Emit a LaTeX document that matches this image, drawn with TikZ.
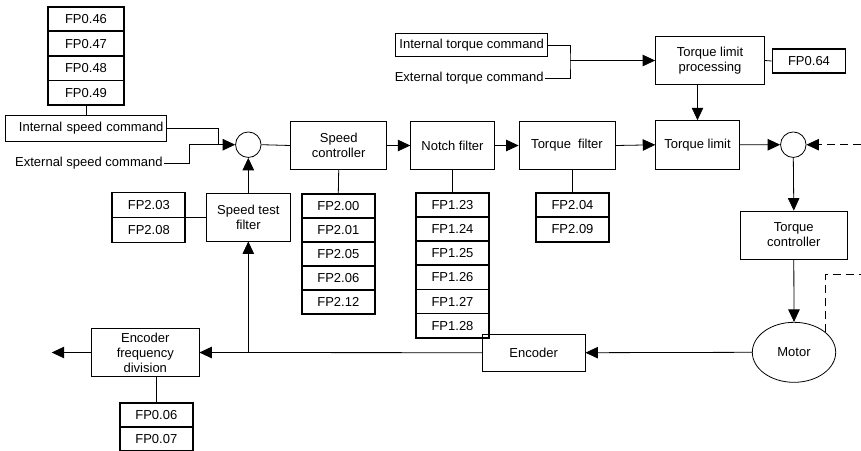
\documentclass[tikz,border=0pt]{standalone}
\usepackage{fontspec}
\setmainfont{Liberation Sans}
\usetikzlibrary{arrows.meta,shapes.geometric,calc}

\tikzset{
  blk/.style={rectangle,draw,line width=0.8pt,align=center,inner sep=1pt},
  fpbox/.style={rectangle,draw,line width=1.8pt,minimum width=73pt,minimum height=24pt,inner sep=0pt},
  sumc/.style={circle,draw,line width=0.8pt,minimum size=25.5pt,inner sep=0pt},
  arr/.style={-{Triangle[length=12.5pt,width=11.5pt]}},
  fb/.style={dash pattern=on 8pt off 5pt},
}

\begin{document}
\begin{tikzpicture}[x=1pt,y=-1pt,line width=0.8pt,font=\fontsize{13}{15}\selectfont]
\useasboundingbox (0,0) rectangle (861,450);
% speed command part
\foreach \i/\p in {0/46,1/47,2/48,3/49} {
    \node (fpa\i) at (86,{19+24.6*\i}) [fpbox,minimum width=75.5pt,minimum height=24.6pt] {FP0.\p};
}
\node (isc) at (86,128.3) [blk,text width=155pt,align=right,inner sep=3pt,minimum height=26.5pt] {Internal speed command};
\node (esc) at (164,163) [anchor=east,inner sep=1pt] {External speed command};
\node (sum1) at (248.3,144.7) [sumc] {};
\coordinate (j1) at (218.3,144.7);
\coordinate (j2) at (189.3,144.7);
\draw (fpa3.south) -- (isc.north);
\draw (isc.east) -| (j1);
\draw[arr] (esc.east) -| (j2) -- (sum1.west);

% forward path
\node (spc) at (338.7,145.5) [blk,minimum width=96pt,minimum height=47.6pt] {Speed\\controller};
\node (notch) at (452.5,145.5) [blk,minimum width=83.6pt,minimum height=47.6pt] {Notch filter};
\node (tqf) at (567,145.5) [blk,minimum width=96pt,minimum height=47.6pt] {Torque\ \ filter};
\node (tlim) at (697.5,144.8) [blk,minimum width=83.7pt,minimum height=48.3pt] {Torque limit};
\node (sum2) at (793.3,144.7) [sumc] {};
\draw (sum1.east) -- (spc.west);
\draw[arr] (spc.east) -- (notch.west);
\draw[arr] (notch.east) -- (tqf.west);
\draw[arr] (tqf.east) -- (tlim.west);
\draw[arr] (tlim.east) -- (sum2.west);
\coordinate (fbin) at (861,144.7);
\draw[arr,fb] (fbin) -- (sum2.east);

% torque command part
\node (itc) at (471.7,45) [blk,minimum width=152pt,minimum height=23.4pt] {Internal torque command};
\node (etc) at (545,78) [anchor=east,inner sep=1pt] {External torque command};
\node (tlp) at (710,60.5) [blk,minimum width=109pt,minimum height=48pt] {Torque limit\\processing};
\node (fp064) at (809,61) [fpbox,minimum height=23.7pt] {FP0.64};
\coordinate (j3) at (570,60.5);
\draw (itc.east) -| (j3) |- (etc.east);
\draw[arr] (j3) -- (tlp.west);
\draw (tlp.east) -- (fp064.west);
\draw[arr] (tlim.north |- tlp.south) -- (tlim.north);

% parameter stacks
\foreach \i/\p in {0/00,1/01,2/05,3/06,4/12} {
    \node (fps\i) at (338.3,{206.3+23.9*\i}) [fpbox,minimum height=23.9pt] {FP2.\p};
}
\draw (spc.south) -- (fps0.north);
\foreach \i/\p in {0/23,1/24,2/25,3/26,4/27,5/28} {
    \node (fpn\i) at (452.5,{204.8+24.17*\i}) [fpbox,minimum height=24.17pt] {FP1.\p};
}
\draw (notch.south) -- (fpn0.north);
\foreach \i/\p in {0/04,1/09} {
    \node (fpt\i) at (572.5,{205+24.5*\i}) [fpbox,minimum height=24.5pt] {FP2.\p};
}
\draw (fpt0.north) -- (fpt0.north |- tqf.south);

% motor and feedback
\node (tqc) at (793.8,235) [blk,minimum width=107pt,minimum height=48pt] {Torque\\controller};
\node (motor) at (794,352.3) [ellipse,draw,minimum width=83.4pt,minimum height=60pt,inner sep=0pt] {Motor};
\node (enc) at (533.7,352.7) [blk,minimum width=102.7pt,minimum height=36.7pt] {Encoder};
\node (efd) at (145.3,352.5) [blk,minimum width=107.3pt,minimum height=48.4pt] {Encoder\\frequency\\division};
\node (stf) at (248.3,217.2) [blk,minimum width=84.7pt,minimum height=47.7pt] {Speed test\\filter};
\draw[arr] (sum2.south) -- (tqc.north);
\draw[arr] (tqc.south) -- (motor.north);
\coordinate (fbout) at (861,274.3);
\draw[fb] (motor.32) |- (fbout);
\draw[arr] (motor.west) -- (enc.east);
\draw[arr] (enc.west) -- (efd.east);
\coordinate (j4) at (248.3,352.5);
\draw[arr] (j4) -- (stf.south);
\draw[arr] (stf.north) -- (sum1.south);
\coordinate (eout) at (51.7,352.5);
\draw[arr] (efd.west) -- (eout);

\foreach \i/\p in {0/03,1/08} {
    \node (fpb\i) at (148.8,{205+25*\i}) [fpbox,minimum height=25pt] {FP2.\p};
}
\draw (stf.west) -- (stf.west -| fpb0.east);
\foreach \i/\p in {0/06,1/07} {
    \node (fpc\i) at (156.3,{414.7+24*\i}) [fpbox,minimum width=72.7pt] {FP0.\p};
}
\draw (fpc0.north) -- (fpc0.north |- efd.south);
\end{tikzpicture}
\end{document}
